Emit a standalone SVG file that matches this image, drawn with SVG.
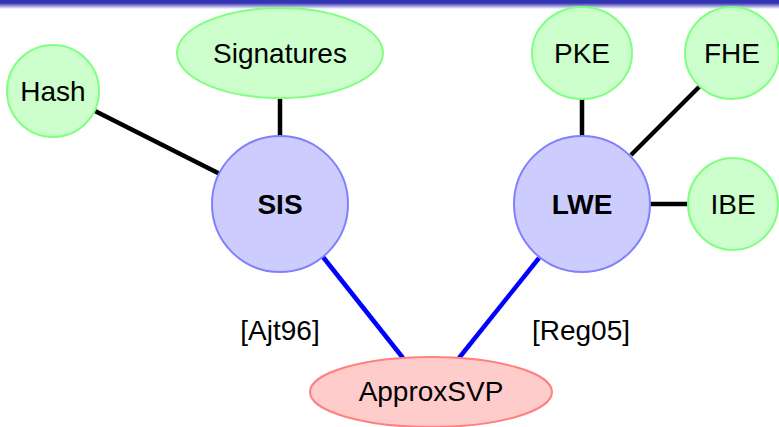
<svg xmlns="http://www.w3.org/2000/svg" width="779" height="427" viewBox="0 0 779 427">
<defs>
<linearGradient id="bar" x1="0" y1="0" x2="0" y2="1">
<stop offset="0" stop-color="#3333b3"/>
<stop offset="1" stop-color="#ffffff"/>
</linearGradient>
</defs>
<style>
.app{fill:#ccffcc;stroke:#80ff80;stroke-width:2}
.prob{fill:#ccccff;stroke:#8080ff;stroke-width:2}
.hard{fill:#ffcccc;stroke:#ff8080;stroke-width:2}
text{font-family:"Liberation Sans",Arial,sans-serif;font-size:28px;fill:#000;text-anchor:middle}
.b{font-weight:bold}
.k{stroke:#000;stroke-width:4.5;fill:none}
.u{stroke:#0000ff;stroke-width:4.5;fill:none}
</style>
<rect x="0" y="0" width="779" height="427" fill="#ffffff"/>
<rect x="0" y="0" width="779" height="3" fill="#3333b3"/>
<rect x="0" y="3" width="779" height="6" fill="url(#bar)"/>
<g id="connectors">
<line class="k" x1="95" y1="111" x2="220" y2="174"/>
<line class="k" x1="280" y1="97" x2="280" y2="137"/>
<line class="k" x1="582" y1="98" x2="582" y2="137"/>
<line class="k" x1="700" y1="86" x2="631" y2="155"/>
<line class="k" x1="650" y1="204" x2="689" y2="204"/>
<line class="u" x1="323" y1="257" x2="403" y2="358"/>
<line class="u" x1="539" y1="258" x2="459" y2="358"/>
</g>
<g id="hash"><circle class="app" cx="53" cy="91" r="46"/><text x="53" y="101">Hash</text></g>
<g id="signatures"><ellipse class="app" cx="280" cy="53" rx="103" ry="45"/><text x="280" y="63">Signatures</text></g>
<g id="pke"><ellipse class="app" cx="582" cy="53" rx="50" ry="46"/><text x="582" y="63">PKE</text></g>
<g id="fhe"><ellipse class="app" cx="732" cy="53" rx="47" ry="46"/><text x="732" y="63">FHE</text></g>
<g id="ibe"><ellipse class="app" cx="733" cy="204" rx="45" ry="46"/><text x="733" y="214">IBE</text></g>
<g id="sis"><circle class="prob" cx="280" cy="204" r="68"/><text class="b" x="280" y="214">SIS</text></g>
<g id="lwe"><circle class="prob" cx="582" cy="204" r="68"/><text class="b" x="582" y="214">LWE</text></g>
<g id="approxsvp"><ellipse class="hard" cx="431" cy="392" rx="121" ry="35"/><text x="431" y="401">ApproxSVP</text></g>
<g id="labels">
<text x="280" y="340">[Ajt96]</text>
<text x="581" y="340">[Reg05]</text>
</g>
</svg>
